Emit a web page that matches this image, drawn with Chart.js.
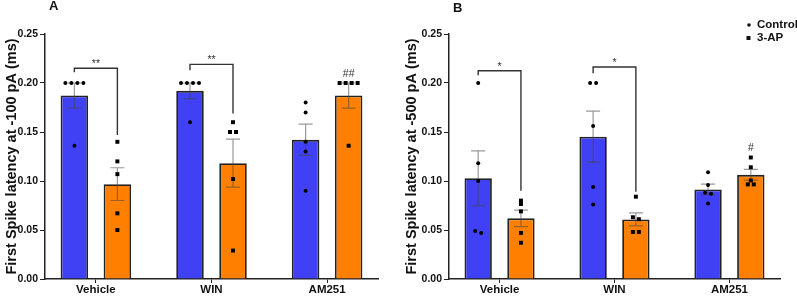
<!DOCTYPE html>
<html>
<head>
<title>First spike latency</title>
<script src="https://cdn.jsdelivr.net/npm/chart.js"></script>
<style>
  body { margin: 0; background: #fff; }
  #wrap { position: relative; width: 797px; height: 296px; }
  canvas { position: absolute; top: 0; }
</style>
</head>
<body>
<div id="wrap">
  <canvas id="chartA" width="400" height="296" style="left:0"></canvas>
  <canvas id="chartB" width="397" height="296" style="left:400px"></canvas>
</div>

<script>
const groups = ['Vehicle', 'WIN', 'AM251'];
const yTicks = [0, 0.05, 0.10, 0.15, 0.20, 0.25];

// A: first spike latency at -100 pA, one value per cell (ms)
const controlA = [
  [0.200, 0.200, 0.200, 0.200, 0.136],
  [0.200, 0.200, 0.200, 0.200, 0.160],
  [0.180, 0.170, 0.140, 0.130, 0.090]
];
const apA = [
  [0.140, 0.120, 0.107, 0.067, 0.050],
  [0.160, 0.150, 0.150, 0.102, 0.029],
  [0.200, 0.200, 0.200, 0.200, 0.136]
];

// B: first spike latency at -500 pA
const controlB = [
  [0.200, 0.118, 0.100, 0.049, 0.047],
  [0.200, 0.200, 0.156, 0.094, 0.076],
  [0.109, 0.096, 0.088, 0.087, 0.077]
];
const apB = [
  [0.080, 0.0765, 0.069, 0.047, 0.037],
  [0.084, 0.063, 0.061, 0.048, 0.048],
  [0.124, 0.114, 0.1005, 0.0965, 0.0965]
];

// significance brackets (y values in ms) and # marks
const sigA = [
  { group: 0, label: '**', top: 0.215, left: 0.211, right: 0.147 },
  { group: 1, label: '**', top: 0.219, left: 0.213, right: 0.169 }
];
const hashA = [{ group: 2, label: '##' }];
const sigB = [
  { group: 0, label: '*', top: 0.2125, left: 0.208, right: 0.090 },
  { group: 1, label: '*', top: 0.2163, left: 0.210, right: 0.089 }
];
const hashB = [{ group: 2, label: '#' }];

const BLUE = '#4040f4';
const ORANGE = '#ff8000';
const FONT = "'Liberation Sans', Arial, sans-serif";

function mean(a) { return a.reduce((s, v) => s + v, 0) / a.length; }
function sem(a) {
  const m = mean(a);
  const ss = a.reduce((s, v) => s + (v - m) * (v - m), 0);
  return Math.sqrt(ss / (a.length - 1)) / Math.sqrt(a.length);
}

// points that would overlap are laid side by side, like Prism does
function spread(groupVals) {
  const out = [];
  groupVals.forEach((vals, g) => {
    const sorted = vals.slice().sort((a, b) => b - a);
    const rows = [];
    sorted.forEach(v => {
      const row = rows[rows.length - 1];
      if (row && row[0] - v < 0.003) row.push(v); else rows.push([v]);
    });
    rows.forEach(row => {
      row.forEach((v, k) => out.push({ x: g + (k - (row.length - 1) / 2) * 0.052, y: v }));
    });
  });
  return out;
}

function makePanel(id, letter, yTitle, control, ap, sig, hashes, axisWidth, padRight, showLegend) {
  const sets = [control, ap];

  const extras = {
    id: 'extras',
    afterDatasetDraw(chart, args) {
      if (args.meta.type !== 'bar') return;
      const ctx = chart.ctx;
      const y = chart.scales.y;
      ctx.save();
      ctx.strokeStyle = 'rgba(70,70,70,0.55)';
      ctx.lineWidth = 1.2;
      args.meta.data.forEach((el, g) => {
        const vals = sets[args.index][g];
        const m = mean(vals), s = sem(vals);
        const y1 = y.getPixelForValue(m - s), y2 = y.getPixelForValue(m + s);
        ctx.beginPath();
        ctx.moveTo(el.x, y1); ctx.lineTo(el.x, y2);
        ctx.moveTo(el.x - 7, y1); ctx.lineTo(el.x + 7, y1);
        ctx.moveTo(el.x - 7, y2); ctx.lineTo(el.x + 7, y2);
        ctx.stroke();
      });
      ctx.restore();
    },
    afterDatasetsDraw(chart) {
      const ctx = chart.ctx;
      const y = chart.scales.y;
      const c = chart.getDatasetMeta(0).data;
      const a = chart.getDatasetMeta(1).data;
      ctx.save();
      ctx.strokeStyle = '#333';
      ctx.fillStyle = '#333';
      ctx.lineWidth = 1.4;
      ctx.font = '10.5px ' + FONT;
      ctx.textAlign = 'center';
      ctx.textBaseline = 'alphabetic';
      sig.forEach(b => {
        const x1 = c[b.group].x, x2 = a[b.group].x;
        const yt = y.getPixelForValue(b.top);
        ctx.beginPath();
        ctx.moveTo(x1, y.getPixelForValue(b.left));
        ctx.lineTo(x1, yt);
        ctx.lineTo(x2, yt);
        ctx.lineTo(x2, y.getPixelForValue(b.right));
        ctx.stroke();
        ctx.fillText(b.label, (x1 + x2) / 2, yt - 1);
      });
      hashes.forEach(h => {
        const top = Math.max(...ap[h.group]);
        ctx.fillText(h.label, a[h.group].x, y.getPixelForValue(top) - 6);
      });
      ctx.restore();
    },
    afterDraw(chart) {
      const ctx = chart.ctx;
      ctx.save();
      ctx.fillStyle = '#111';
      ctx.font = 'bold 13px ' + FONT;
      ctx.textBaseline = 'alphabetic';
      ctx.fillText(letter, id === 'chartA' ? 49 : 53, id === 'chartA' ? 10 : 12);
      if (showLegend) {
        ctx.font = 'bold 11.5px ' + FONT;
        ctx.textBaseline = 'middle';
        ctx.beginPath();
        ctx.arc(349, 25, 1.8, 0, Math.PI * 2);
        ctx.fill();
        ctx.fillRect(346.5, 36, 4, 4);
        ctx.fillText('Control', 357, 25);
        ctx.fillText('3-AP', 357, 38);
      }
      ctx.restore();
    }
  };

  return new Chart(document.getElementById(id), {
    type: 'bar',
    data: {
      datasets: [
        {
          label: 'Control',
          data: control.map((v, g) => ({ x: g, y: mean(v) })),
          backgroundColor: BLUE,
          borderColor: '#222',
          borderWidth: 1.8,
          categoryPercentage: 0.744,
          barPercentage: 0.64,
          order: 1
        },
        {
          label: '3-AP',
          data: ap.map((v, g) => ({ x: g, y: mean(v) })),
          backgroundColor: ORANGE,
          borderColor: '#222',
          borderWidth: 1.8,
          categoryPercentage: 0.744,
          barPercentage: 0.64,
          order: 1
        },
        {
          type: 'scatter',
          label: 'Control cells',
          data: spread(control).map(p => ({ x: p.x - 0.186, y: p.y })),
          pointStyle: 'circle',
          pointRadius: 2,
          backgroundColor: '#000',
          borderWidth: 0,
          order: 0
        },
        {
          type: 'scatter',
          label: '3-AP cells',
          data: spread(ap).map(p => ({ x: p.x + 0.186, y: p.y })),
          pointStyle: 'rect',
          pointRadius: 2.8,
          backgroundColor: '#000',
          borderWidth: 0,
          order: 0
        }
      ]
    },
    options: {
      responsive: false,
      animation: false,
      layout: { padding: { top: 34, right: padRight, left: 0, bottom: 0 } },
      plugins: { legend: { display: false }, tooltip: { enabled: false } },
      scales: {
        x: {
          type: 'linear',
          min: -0.44,
          max: 2.44,
          offset: false,
          afterBuildTicks: s => { s.ticks = groups.map((_, i) => ({ value: i })); },
          afterFit: s => { s.height = 17; },
          ticks: {
            callback: v => groups[v],
            color: '#111',
            font: { family: FONT, size: 11.5, weight: 'bold' },
            padding: 0,
            maxRotation: 0
          },
          grid: { drawOnChartArea: false, tickLength: 4, color: '#222', offset: false },
          border: { color: '#222', width: 1.5 }
        },
        y: {
          min: 0,
          max: 0.25,
          afterBuildTicks: s => { s.ticks = yTicks.map(v => ({ value: v })); },
          afterFit: s => { s.width = axisWidth; },
          ticks: {
            callback: v => v.toFixed(2),
            color: '#111',
            font: { family: FONT, size: 10.5, weight: 'bold' },
            padding: 2
          },
          grid: { drawOnChartArea: false, tickLength: 5, color: '#222' },
          border: { color: '#222', width: 1.5 },
          title: {
            display: true,
            text: yTitle,
            color: '#111',
            font: { family: FONT, size: 14.5, weight: 'bold' },
            padding: { top: 3, bottom: 0 }
          }
        }
      }
    },
    plugins: [extras]
  });
}

makePanel('chartA', 'A', 'First Spike latency at -100 pA (ms)', controlA, apA, sigA, hashA, 45, 22, false);
makePanel('chartB', 'B', 'First Spike latency at -500 pA (ms)', controlB, apB, sigB, hashB, 49, 17, true);
</script>
</body>
</html>
